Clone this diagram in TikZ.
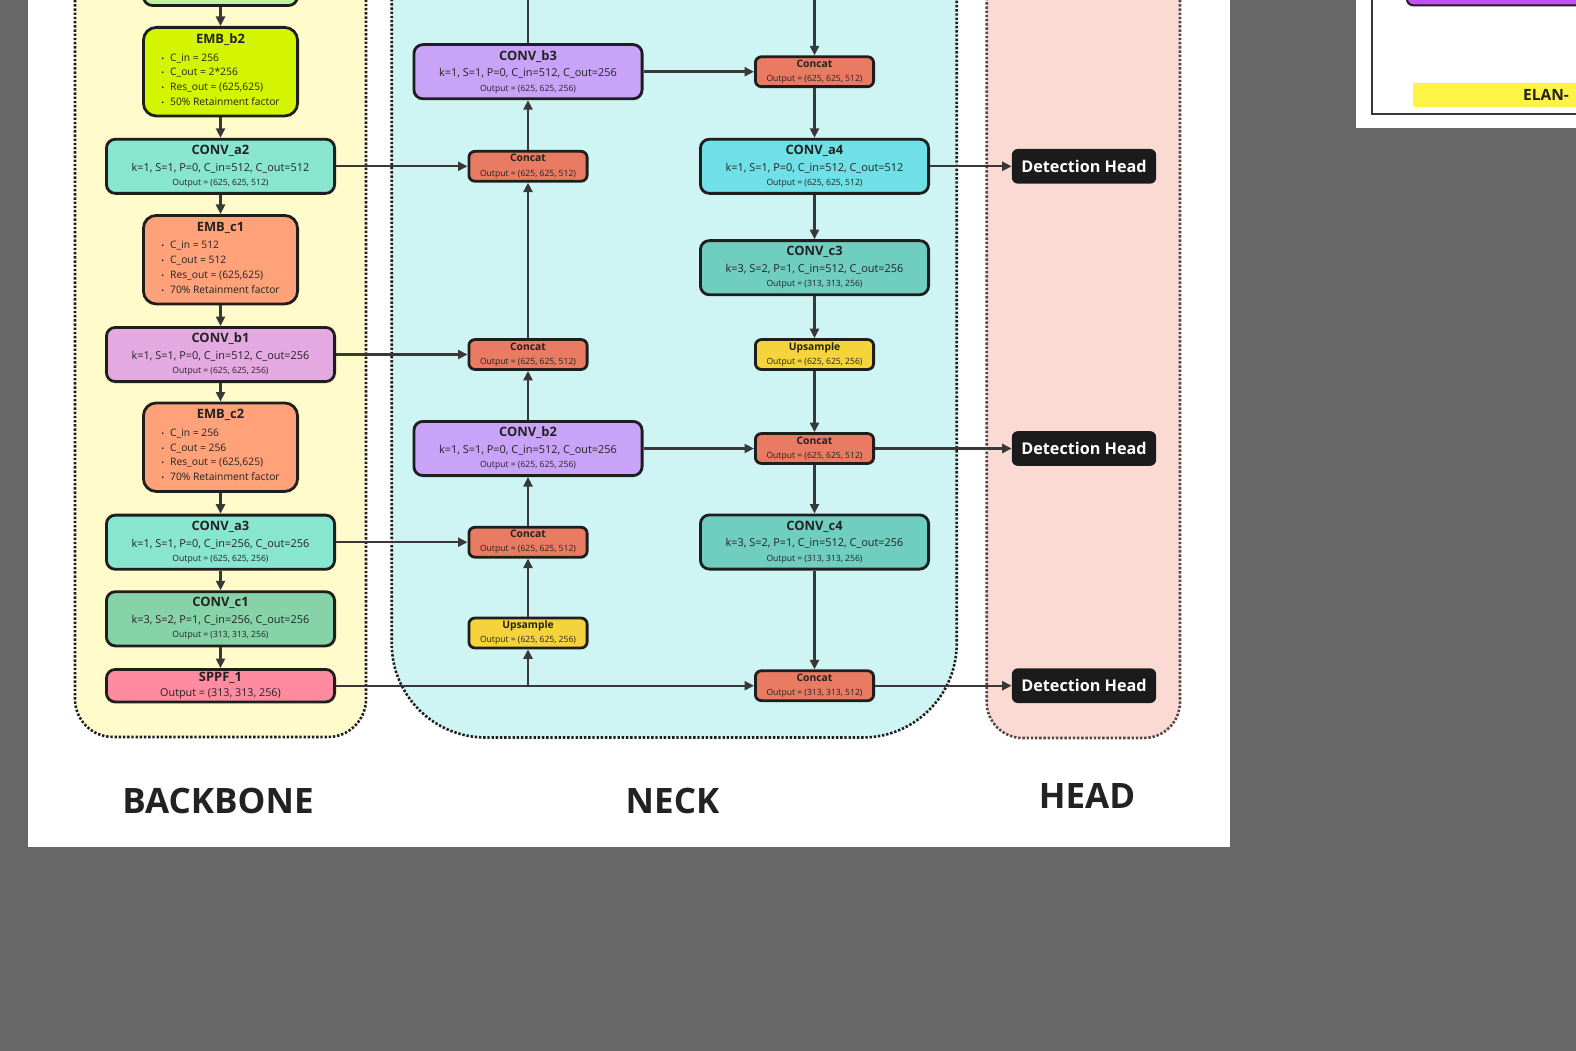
\documentclass[tikz,border=0pt]{standalone}
\usepackage{fontspec}
\setmainfont{Open Sans}
\usepackage{xcolor}
\usepackage{tikz}
\usetikzlibrary{arrows.meta, positioning, calc}

\definecolor{pagegray}{HTML}{676767}
\definecolor{bbfill}{HTML}{FFFBCA}
\definecolor{neckfill}{HTML}{CEF5F4}
\definecolor{headfill}{HTML}{FADAD3}
\definecolor{headline}{HTML}{5A4444}
\definecolor{boxline}{HTML}{1E1E1E}
\definecolor{linkgray}{HTML}{383838}
\definecolor{txt}{HTML}{222222}
\definecolor{embgreen}{HTML}{D3F600}
\definecolor{embsalmon}{HTML}{FFA27A}
\definecolor{convaqua}{HTML}{88E6CF}
\definecolor{convorchid}{HTML}{E4A9E1}
\definecolor{convgreen}{HTML}{86D3A7}
\definecolor{sppfpink}{HTML}{FF8BA0}
\definecolor{convpurple}{HTML}{C9A3F7}
\definecolor{convcyan}{HTML}{6FE0E6}
\definecolor{convteal}{HTML}{6FCEBF}
\definecolor{catred}{HTML}{E97B62}
\definecolor{upyellow}{HTML}{F5D33C}
\definecolor{detblack}{HTML}{1B1B1B}
\definecolor{topgreen}{HTML}{C0F39C}
\definecolor{elanpurple}{HTML}{C052F2}
\definecolor{elanyellow}{HTML}{FFF445}

\newcommand{\convlbl}[3]{{\bfseries\fontsize{12.9}{14}\selectfont #1}\\[2.4pt]#2\\{\fontsize{8.6}{10}\selectfont #3}}
\newcommand{\embdot}{{\fontsize{7.5}{7}\selectfont •}\hspace{6pt}}
\newcommand{\emblbl}[5]{{\bfseries\fontsize{12.9}{14}\selectfont #1}\\{\fontsize{10.3}{14.7}\selectfont\begin{tabular}[t]{@{}l@{}}\embdot #2\\\embdot #3\\\embdot #4\\\embdot #5\end{tabular}}}
\newcommand{\catlbl}[2]{{\bfseries\fontsize{10.3}{12}\selectfont #1}\\#2}

\begin{document}
\begin{tikzpicture}[
x=1pt, y=-1pt,
block/.style={rectangle, rounded corners=9pt, draw=boxline, line width=2.8pt, text=txt, align=center, inner sep=0pt},
conv/.style={block, minimum width=228.2pt, minimum height=54.2pt, font=\fontsize{10.9}{14.3}\selectfont},
emb/.style={block, rounded corners=13pt, minimum width=154.2pt, minimum height=88.6pt, font=\fontsize{9}{17.7}\selectfont},
cat/.style={block, rounded corners=6pt, minimum width=118.2pt, minimum height=29.9pt, font=\fontsize{8.6}{14.1}\selectfont},
dethead/.style={rectangle, rounded corners=6pt, fill=detblack, text=white, inner sep=0pt, minimum width=144.3pt, minimum height=34.7pt, font=\bfseries\fontsize{16.2}{18}\selectfont},
region/.style={draw=boxline, line width=2.6pt, dash pattern=on 2.4pt off 1.8pt},
link/.style={draw=linkgray, line width=2.4pt},
arr/.style={link, -{Triangle[length=9.5pt, width=9pt]}},
partlbl/.style={font=\bfseries\fontsize{35}{40}\selectfont, text=txt}
]

% Canvas
\useasboundingbox (0,0) rectangle (1576,1051);
\fill[pagegray] (0,0) rectangle (1576,1051);
\clip (0,0) rectangle (1576,1051);
\fill[white] (28,-5) rectangle (1230,847);
\fill[white] (1356,-5) rectangle (1580,128.3);
\draw[draw=linkgray, line width=1.8pt] (1372,-5) -- (1372,114.3) -- (1580,114.3);
\draw[draw=boxline, fill=elanpurple, line width=2pt, rounded corners=6pt] (1407,-40) rectangle (1600,5.3);
\fill[elanyellow] (1413,82.7) rectangle (1580,106.7);
\node[anchor=base west, inner sep=0pt, text=txt, font=\bfseries\fontsize{15.5}{18}\selectfont] (elan) at (1523,100.7) {ELAN-};

% Regions
\draw[region, fill=bbfill, rounded corners=38pt] (75,-80) rectangle (366,737);
\draw[region, fill=neckfill, rounded corners=94pt] (391.7,-200) rectangle (956.7,737.5);
\draw[region, draw=headline, fill=headfill, rounded corners=36pt] (986.7,-80) rectangle (1180,738);

% Backbone
\node[block, fill=topgreen, minimum width=154pt, minimum height=50pt] (bbtop) at (220.5,-19.5) {};
\node[emb, fill=embgreen] (embb2) at (220.5,71.7) {\emblbl{EMB\_b2}{C\_in = 256}{C\_out = 2*256}{Res\_out = (625,625)}{50\% Retainment factor}};
\node[conv, fill=convaqua] (conva2) at (220.5,166.3) {\convlbl{CONV\_a2}{k=1, S=1, P=0, C\_in=512, C\_out=512}{Output = (625, 625, 512)}};
\node[emb, fill=embsalmon] (embc1) at (220.5,259.7) {\emblbl{EMB\_c1}{C\_in = 512}{C\_out = 512}{Res\_out = (625,625)}{70\% Retainment factor}};
\node[conv, fill=convorchid] (convb1) at (220.5,354.5) {\convlbl{CONV\_b1}{k=1, S=1, P=0, C\_in=512, C\_out=256}{Output = (625, 625, 256)}};
\node[emb, fill=embsalmon] (embc2) at (220.5,447.2) {\emblbl{EMB\_c2}{C\_in = 256}{C\_out = 256}{Res\_out = (625,625)}{70\% Retainment factor}};
\node[conv, fill=convaqua] (conva3) at (220.5,542.2) {\convlbl{CONV\_a3}{k=1, S=1, P=0, C\_in=256, C\_out=256}{Output = (625, 625, 256)}};
\node[conv, fill=convgreen] (convc1) at (220.5,618.8) {\convlbl{CONV\_c1}{k=3, S=2, P=1, C\_in=256, C\_out=256}{Output = (313, 313, 256)}};
\node[block, fill=sppfpink, minimum width=228.2pt, minimum height=32.6pt, font=\fontsize{10.8}{14.2}\selectfont] (sppf) at (220.5,685.7) {{\bfseries\fontsize{12.9}{14}\selectfont SPPF\_1}\\Output = (313, 313, 256)};

% Neck, upward column
\node[conv, fill=convpurple] (convb3) at (528,71.7) {\convlbl{CONV\_b3}{k=1, S=1, P=0, C\_in=512, C\_out=256}{Output = (625, 625, 256)}};
\node[cat, fill=catred] (cat1) at (528,166.3) {\catlbl{Concat}{Output = (625, 625, 512)}};
\node[cat, fill=catred] (cat2) at (528,354.5) {\catlbl{Concat}{Output = (625, 625, 512)}};
\node[conv, fill=convpurple] (convb2) at (528,448.5) {\convlbl{CONV\_b2}{k=1, S=1, P=0, C\_in=512, C\_out=256}{Output = (625, 625, 256)}};
\node[cat, fill=catred] (cat3) at (528,542.2) {\catlbl{Concat}{Output = (625, 625, 512)}};
\node[cat, fill=upyellow] (up1) at (528,633) {\catlbl{Upsample}{Output = (625, 625, 256)}};

% Neck, downward column
\node[cat, fill=catred] (cat4) at (814.5,71.7) {\catlbl{Concat}{Output = (625, 625, 512)}};
\node[conv, fill=convcyan] (conva4) at (814.5,166.3) {\convlbl{CONV\_a4}{k=1, S=1, P=0, C\_in=512, C\_out=512}{Output = (625, 625, 512)}};
\node[conv, fill=convteal] (convc3) at (814.5,267.7) {\convlbl{CONV\_c3}{k=3, S=2, P=1, C\_in=512, C\_out=256}{Output = (313, 313, 256)}};
\node[cat, fill=upyellow] (up2) at (814.5,354.5) {\catlbl{Upsample}{Output = (625, 625, 256)}};
\node[cat, fill=catred] (cat5) at (814.5,448.5) {\catlbl{Concat}{Output = (625, 625, 512)}};
\node[conv, fill=convteal] (convc4) at (814.5,542) {\convlbl{CONV\_c4}{k=3, S=2, P=1, C\_in=512, C\_out=256}{Output = (313, 313, 256)}};
\node[cat, fill=catred] (cat6) at (814.5,685.7) {\catlbl{Concat}{Output = (313, 313, 512)}};

% Head
\node[dethead] (det1) at (1084,166.3) {Detection Head};
\node[dethead] (det2) at (1084,448.5) {Detection Head};
\node[dethead] (det3) at (1084,685.7) {Detection Head};

% Part labels
\node[partlbl] (lblbb) at (218,801) {BACKBONE};
\node[partlbl] (lblneck) at (672.5,801) {NECK};
\node[partlbl] (lblhead) at (1087,796) {HEAD};

% Backbone links
\foreach \a/\b in {bbtop/embb2, embb2/conva2, conva2/embc1, embc1/convb1, convb1/embc2, embc2/conva3, conva3/convc1, convc1/sppf}
  \draw[arr] (\a) -- (\b);

% Backbone to neck
\draw[arr] (conva2) -- (cat1);
\draw[arr] (convb1) -- (cat2);
\draw[arr] (conva3) -- (cat3);
\coordinate (sppfsplit) at (sppf.east -| up1.south);
\draw[arr] (sppf.east) -- (cat6.west);
\draw[arr] (sppfsplit) -- (up1.south);

% Neck upward
\foreach \a/\b in {up1/cat3, cat3/convb2, convb2/cat2, cat2/cat1, cat1/convb3}
  \draw[arr] (\a) -- (\b);
\coordinate (neckout) at (528,-5);
\draw[link] (convb3) -- (neckout);

% Neck downward
\coordinate (neckin) at (814.5,-5);
\draw[arr] (neckin) -- (cat4);
\foreach \a/\b in {cat4/conva4, conva4/convc3, convc3/up2, up2/cat5, cat5/convc4, convc4/cat6}
  \draw[arr] (\a) -- (\b);
\draw[arr] (convb3) -- (cat4);
\draw[arr] (convb2) -- (cat5);

% To heads
\draw[arr] (conva4) -- (det1);
\draw[arr] (cat5) -- (det2);
\draw[arr] (cat6) -- (det3);

\end{tikzpicture}
\end{document}
